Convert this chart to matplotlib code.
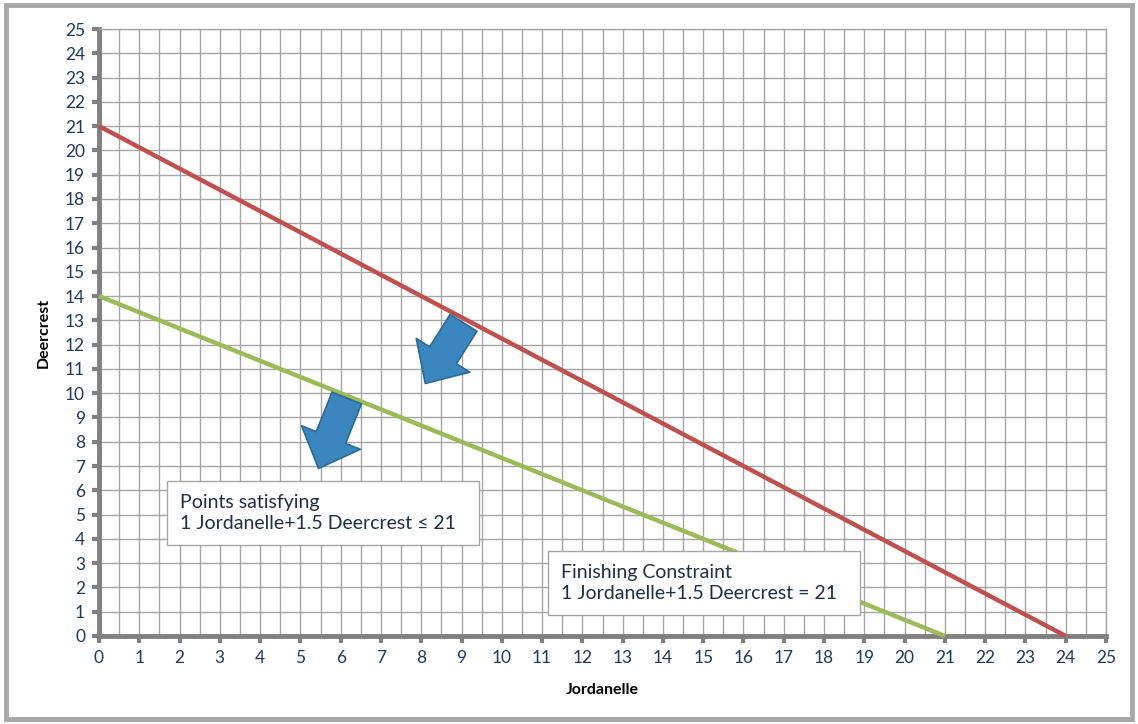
import matplotlib
matplotlib.use("Agg")
import matplotlib.pyplot as plt
from matplotlib.patches import Rectangle
import numpy as np

plt.rcParams['font.family'] = ['Lato', 'DejaVu Sans']

# Data
red_x = [0, 24]
red_y = [21, 0]
green_x = [0, 21]
green_y = [14, 0]
arrow1 = (9.05, 12.9, 8.1, 10.4)
arrow2 = (6.15, 9.8, 5.45, 6.9)
box1_text = "Points satisfying\n1 Jordanelle+1.5 Deercrest \u2264 21  "
box2_text = "Finishing Constraint\n1 Jordanelle+1.5 Deercrest = 21  "
ticks = list(range(0, 26))

W, H = 1138, 724
fig = plt.figure(figsize=(W/100, H/100), dpi=100)
ax = fig.add_axes([99/W, 1-636/H, (1106-99)/W, (636-29)/H])

ax.set_xlim(0, 25)
ax.set_ylim(0, 25)
ax.set_xticks(ticks)
ax.set_yticks(ticks)
ax.set_xticks(np.arange(0.5, 25, 1.0), minor=True)
ax.grid(True, which='major', color='#a6a6a6', lw=1.0)
ax.grid(True, which='minor', axis='x', color='#a6a6a6', lw=1.0)
ax.tick_params(which='minor', length=0)
ax.tick_params(which='major', length=5, width=3, color='#808080', labelsize=12.5,
               labelcolor='#1f3a5a', pad=5)
for s in ['top', 'right']:
    ax.spines[s].set_color('#a6a6a6')
    ax.spines[s].set_linewidth(1)
for s in ['left', 'bottom']:
    ax.spines[s].set_color('#808080')
    ax.spines[s].set_linewidth(3.5)
ax.set_axisbelow(True)

ax.plot(red_x, red_y, color='#c0504d', lw=3.2, solid_capstyle='butt', clip_on=False, zorder=3)
ax.plot(green_x, green_y, color='#9bbb59', lw=3.2, solid_capstyle='butt', clip_on=False, zorder=3)

ax.set_xlabel("Jordanelle", fontsize=11.5, fontweight='bold', labelpad=12)
ax.set_ylabel("Deercrest", fontsize=11.5, fontweight='bold', labelpad=10)

for (x0, y0, x1, y1) in [arrow1, arrow2]:
    ax.annotate("", xy=(x1, y1), xytext=(x0, y0),
                arrowprops=dict(arrowstyle="simple,head_length=1.0,head_width=1.9,tail_width=0.95",
                                fc='#3a87c0', ec='#2c6a99', lw=1.2,
                                shrinkA=0, shrinkB=0, mutation_scale=24),
                zorder=5)

bbox = dict(boxstyle='square,pad=0.65', fc='white', ec='#a6a6a6', lw=1)
ax.text((180-99)/40.28, (636-513)/24.28, box1_text, fontsize=14, color='#1f2f45',
        va='center', ha='left', linespacing=1.3, bbox=bbox, zorder=6)
ax.text((561-99)/40.28, (636-583)/24.28, box2_text, fontsize=14, color='#1f2f45',
        va='center', ha='left', linespacing=1.3, bbox=bbox, zorder=6)

fig.patches.append(Rectangle((6/W, 5/H), (1132-6)/W, (719-5)/H, transform=fig.transFigure,
                             fill=False, ec='#a8a8a8', lw=3.5))

fig.savefig("out.png", dpi=100)
